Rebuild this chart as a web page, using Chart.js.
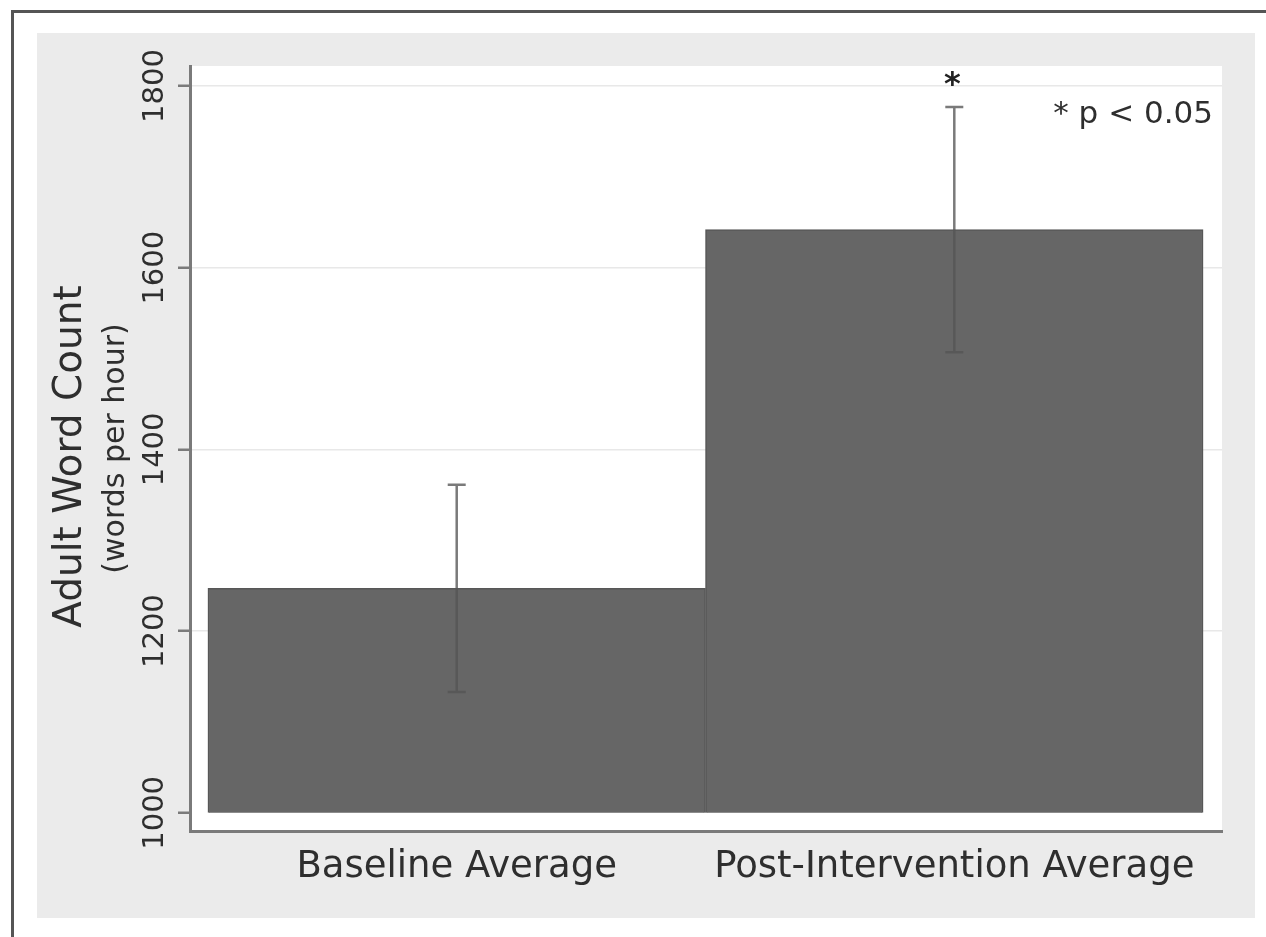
<!DOCTYPE html>
<html lang="en">
<head>
<meta charset="UTF-8">
<title>Adult Word Count</title>
<script src="https://cdn.jsdelivr.net/npm/chart.js"></script>
<style>
  body { margin: 0; background: #fff; }
  .frame { position: absolute; left: 11px; top: 10px; right: 0; bottom: 0;
           border-top: 3px solid #555; border-left: 3px solid #555; }
  .panel { position: absolute; left: 37px; top: 33px; width: 1218px; height: 885px; background: #ebebeb; }
  canvas { display: block; }
</style>
</head>
<body>
<div class="frame"></div>
<div class="panel"><canvas id="wordChart" width="1218" height="885"></canvas></div>
<script>
const categories = ['Baseline Average', 'Post-Intervention Average'];
const meanWords = [1247, 1642];
const errWords = [114, 135];
const sigMarks = ['', '*'];
const yTicks = [1000, 1200, 1400, 1600, 1800];
const barFloor = 1000;
const yTitle = 'Adult Word Count';
const ySubtitle = '(words per hour)';
const sigNote = '* p < 0.05';

const textColor = '#2e2e2e';
const axisColor = '#7a7a7a';

Chart.defaults.font.family = 'DejaVu Sans';

// white plotting region behind the grid
const plotBackground = {
  id: 'plotBackground',
  beforeDraw(chart) {
    const { ctx, chartArea: a } = chart;
    ctx.save();
    ctx.fillStyle = '#fff';
    ctx.fillRect(a.left, a.top, a.right - a.left, a.bottom - a.top);
    ctx.restore();
  }
};

// mean +/- error whiskers, plus significance stars
const errorBars = {
  id: 'errorBars',
  afterDatasetsDraw(chart) {
    const { ctx, scales: { x, y } } = chart;
    ctx.save();
    ctx.strokeStyle = 'rgba(84,84,84,0.78)';
    ctx.lineWidth = 2.5;
    meanWords.forEach((m, i) => {
      const px = x.getPixelForValue(i + 0.5);
      const top = y.getPixelForValue(m + errWords[i]);
      const bot = y.getPixelForValue(m - errWords[i]);
      ctx.beginPath();
      ctx.moveTo(px, top); ctx.lineTo(px, bot);
      ctx.moveTo(px - 9, top); ctx.lineTo(px + 9, top);
      ctx.moveTo(px - 9, bot); ctx.lineTo(px + 9, bot);
      ctx.stroke();
      if (sigMarks[i]) {
        ctx.fillStyle = '#222';
        ctx.font = 'bold 32px DejaVu Sans';
        ctx.textAlign = 'center';
        ctx.textBaseline = 'alphabetic';
        ctx.fillText(sigMarks[i], px - 2, top - 13);
      }
    });
    ctx.restore();
  }
};

// rotated y tick labels, two-line y title and the p-value note
const axisText = {
  id: 'axisText',
  afterDraw(chart) {
    const { ctx, chartArea: a, scales: { y } } = chart;
    const midY = (a.top + a.bottom) / 2;
    ctx.save();
    ctx.fillStyle = textColor;
    ctx.textAlign = 'center';
    ctx.textBaseline = 'alphabetic';

    ctx.font = '29px DejaVu Sans';
    yTicks.forEach(v => {
      ctx.save();
      ctx.translate(a.left - 27, y.getPixelForValue(v));
      ctx.rotate(-Math.PI / 2);
      ctx.fillText(String(v), 0, 0);
      ctx.restore();
    });

    ctx.save();
    ctx.translate(a.left - 109, midY + 8);
    ctx.rotate(-Math.PI / 2);
    ctx.font = '39px DejaVu Sans';
    ctx.fillText(yTitle, 0, 0);
    ctx.restore();

    ctx.save();
    ctx.translate(a.left - 66, midY);
    ctx.rotate(-Math.PI / 2);
    ctx.font = '30px DejaVu Sans';
    ctx.fillText(ySubtitle, 0, 0);
    ctx.restore();

    ctx.font = '31px DejaVu Sans';
    ctx.textAlign = 'right';
    ctx.fillText(sigNote, a.right - 9, a.top + 57);
    ctx.restore();
  }
};

new Chart(document.getElementById('wordChart'), {
  type: 'bar',
  data: {
    datasets: [{
      data: categories.map((c, i) => ({ x: i + 0.5, y: [barFloor, meanWords[i]] })),
      backgroundColor: '#666666',
      borderColor: '#575757',
      borderWidth: 1.5,
      borderSkipped: 'start',
      barPercentage: 1,
      categoryPercentage: 1
    }]
  },
  options: {
    responsive: false,
    animation: false,
    devicePixelRatio: 1,
    layout: { padding: { top: 33, right: 33, left: 0, bottom: 0 } },
    plugins: { legend: { display: false }, tooltip: { enabled: false } },
    scales: {
      x: {
        type: 'linear',
        offset: false,
        min: -0.036,
        max: 2.038,
        afterBuildTicks: s => { s.ticks = categories.map((c, i) => ({ value: i + 0.5 })); },
        afterFit: s => { s.height = 87; },
        ticks: {
          callback: (v, i) => categories[i],
          font: { size: 37 },
          color: textColor,
          padding: 14,
          maxRotation: 0,
          autoSkip: false
        },
        grid: { display: false, drawTicks: false },
        border: { display: true, color: axisColor, width: 3 }
      },
      y: {
        min: 980,
        max: 1822,
        afterBuildTicks: s => { s.ticks = yTicks.map(v => ({ value: v })); },
        afterFit: s => { s.width = 153; },
        ticks: { display: false },
        grid: {
          color: c => (c.tick && c.tick.value === barFloor) ? 'rgba(0,0,0,0)' : '#e8e8e8',
          lineWidth: 1.5,
          tickColor: axisColor,
          tickLength: 12,
          tickWidth: 2.5
        },
        border: { color: axisColor, width: 3 }
      }
    }
  },
  plugins: [plotBackground, errorBars, axisText]
});
</script>
</body>
</html>
